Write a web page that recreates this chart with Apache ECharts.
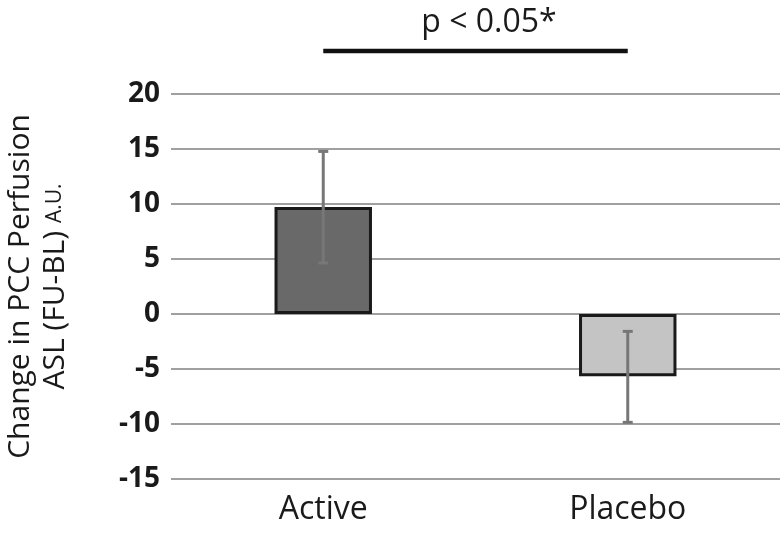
<!DOCTYPE html>
<html>
<head>
<meta charset="utf-8">
<script src="https://cdn.jsdelivr.net/npm/echarts@6/dist/echarts.min.js"></script>
<style>html,body{margin:0;padding:0;background:#fff}#c{width:780px;height:537px}</style>
</head>
<body>
<div id="c"></div>
<script>
const categories = ['Active', 'Placebo'];
const means = [9.73, -5.67];
const errLow = [4.64, -9.85];
const errHigh = [14.78, -1.58];
const barColors = ['#696969', '#c4c4c4'];
const sigLevel = 23.9;
const sigText = 'p < 0.05*';
const yTicks = { min: -15, max: 20, interval: 5 };

const FONT = '"Open Sans", "Noto Sans", sans-serif';
const chart = echarts.init(document.getElementById('c'), null, { renderer: 'canvas' });

chart.setOption({
  animation: false,
  backgroundColor: '#fff',
  title: {
    text: sigText,
    left: 484, top: 2, textAlign: 'center',
    textStyle: { fontFamily: FONT, fontWeight: 'normal', fontSize: 32, color: '#1a1a1a' }
  },
  grid: { left: 171, right: 0, top: 94, bottom: 58, containLabel: false, outerBoundsMode: 'none' },
  xAxis: {
    type: 'category', data: categories,
    axisLine: { show: false }, axisTick: { show: false },
    axisLabel: { fontFamily: FONT, fontSize: 32, color: '#1a1a1a', margin: 15 }
  },
  yAxis: {
    type: 'value', min: yTicks.min, max: yTicks.max, interval: yTicks.interval,
    axisLine: { show: false }, axisTick: { show: false },
    splitLine: { lineStyle: { color: '#808080', width: 1.5 } },
    axisLabel: { fontFamily: FONT, fontSize: 28, fontWeight: 'bold', color: '#1a1a1a', margin: 11 },
    name: 'Change in PCC Perfusion\n{a|ASL (FU-BL) }{s|A.U.}',
    nameLocation: 'middle', nameRotate: 90, nameGap: 98,
    nameTextStyle: {
      fontFamily: FONT, fontSize: 30, color: '#1a1a1a', lineHeight: 35,
      rich: {
        a: { fontFamily: FONT, fontSize: 30, color: '#1a1a1a', lineHeight: 35 },
        s: { fontFamily: FONT, fontSize: 21, color: '#1a1a1a', lineHeight: 35 }
      }
    }
  },
  series: [
    {
      type: 'bar', barWidth: '32%',
      data: means.map((v, i) => ({ value: v, itemStyle: { color: barColors[i] } })),
      itemStyle: { borderColor: '#1a1a1a', borderWidth: 3 },
      z: 2
    },
    {
      type: 'custom', z: 3,
      data: categories.map((c, i) => [i, errLow[i], errHigh[i]]),
      renderItem: function (params, api) {
        const x = api.value(0);
        const lo = api.coord([x, api.value(1)]);
        const hi = api.coord([x, api.value(2)]);
        const hw = 5;
        const st = { stroke: '#777777', lineWidth: 3 };
        return {
          type: 'group', children: [
            { type: 'line', shape: { x1: lo[0], y1: lo[1], x2: hi[0], y2: hi[1] }, style: st },
            { type: 'line', shape: { x1: lo[0] - hw, y1: lo[1], x2: lo[0] + hw, y2: lo[1] }, style: st },
            { type: 'line', shape: { x1: hi[0] - hw, y1: hi[1], x2: hi[0] + hw, y2: hi[1] }, style: st }
          ]
        };
      }
    },
    {
      type: 'line', clip: false, symbol: 'none', silent: true, z: 4,
      data: [[categories[0], sigLevel], [categories[1], sigLevel]],
      lineStyle: { color: '#111', width: 4.5 }
    }
  ]
});
</script>
</body>
</html>
